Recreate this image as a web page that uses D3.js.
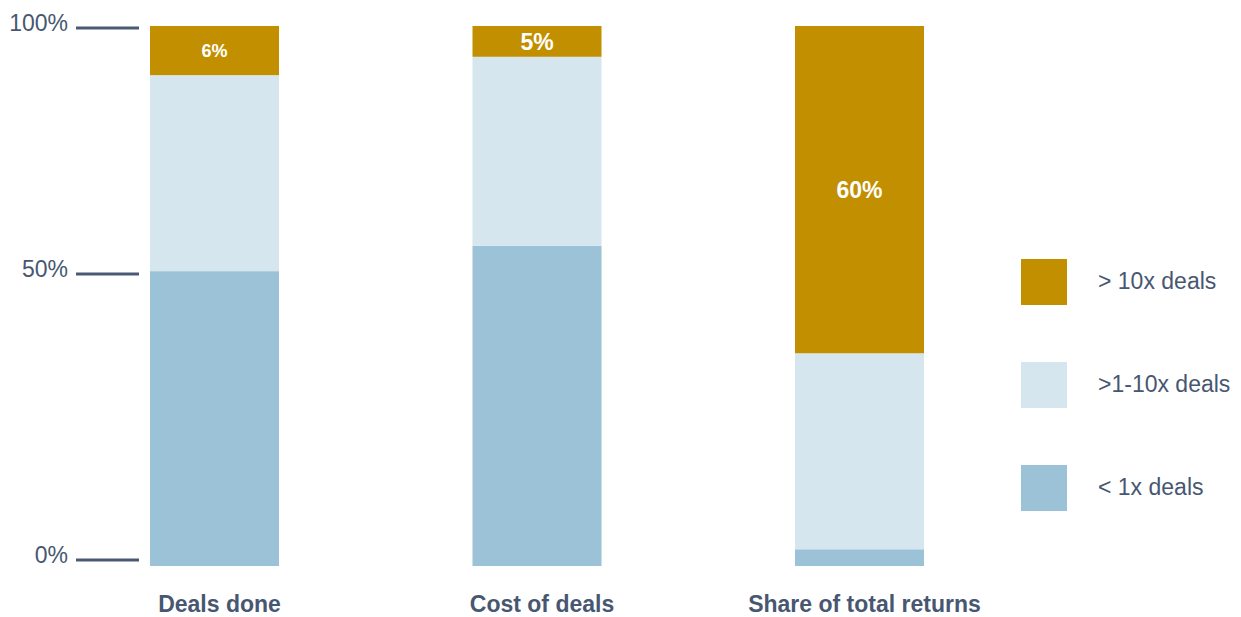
<!DOCTYPE html>
<html>
<head>
	<meta charset="utf-8">
	<script src="https://d3js.org/d3.v7.min.js"></script>
	<style>
		body { margin: 0; background: #fff; }
		text { font-family: "Liberation Sans", Arial, sans-serif; }
	</style>
</head>
<body>
	<svg width="1241" height="617"></svg>
	<script>
		// chart data
		const categories = ["Deals done", "Cost of deals", "Share of total returns"];
		const seriesNames = ["< 1x deals", ">1-10x deals", "> 10x deals"];
		const under1x = [54.6, 59.3, 3.1];
		const mid1to10x = [36.3, 35.0, 36.3];
		const over10x = [9.1, 5.7, 60.6];
		const topLabels = ["6%", "5%", "60%"];
		const tickValues = [0, 50, 100];
		const tickLabels = ["0%", "50%", "100%"];

		const colors = {"< 1x deals": "#9bc2d6", ">1-10x deals": "#d6e6ef", "> 10x deals": "#c18f00"};
		const textColor = "#475771";

		const data = categories.map((c, i) => ({
			category: c,
			"< 1x deals": under1x[i],
			">1-10x deals": mid1to10x[i],
			"> 10x deals": over10x[i],
			label: topLabels[i]
		}));

		const svg = d3.select("svg");

		const x = d3.scaleBand().domain(categories).range([150, 924]).paddingInner(0.6).paddingOuter(0);
		const y = d3.scaleLinear().domain([0, 100]).range([566, 26]);
		// the axis ticks of the original are not evenly spaced
		const yAxis = d3.scaleLinear().domain([0, 50, 100]).range([560, 274, 28]);

		const stack = d3.stack().keys(seriesNames);
		const layers = stack(data);

		svg.append("g").selectAll("g")
			.data(layers)
			.join("g")
			.attr("fill", d => colors[d.key])
			.selectAll("rect")
			.data(d => d)
			.join("rect")
			.attr("x", d => x(d.data.category))
			.attr("width", x.bandwidth())
			.attr("y", d => y(d[1]))
			.attr("height", d => y(d[0]) - y(d[1]));

		// labels on the top segment
		const topLayer = layers[2];
		svg.append("g").selectAll("text")
			.data(topLayer)
			.join("text")
			.attr("x", d => x(d.data.category) + x.bandwidth() / 2)
			.attr("y", d => (y(d[0]) + y(d[1])) / 2)
			.attr("dy", "0.38em")
			.attr("text-anchor", "middle")
			.attr("fill", "#fff")
			.attr("font-weight", "bold")
			.attr("font-size", (d, i) => i === 0 ? 18 : 23)
			.text(d => d.data.label);

		// y ticks
		const ticks = svg.append("g");
		tickValues.forEach((v, i) => {
			ticks.append("line")
				.attr("x1", 76).attr("x2", 139)
				.attr("y1", yAxis(v)).attr("y2", yAxis(v))
				.attr("stroke", "#4a5a74")
				.attr("stroke-width", 3);
			ticks.append("text")
				.attr("x", 68)
				.attr("y", yAxis(v) + 3)
				.attr("text-anchor", "end")
				.attr("font-size", 23)
				.attr("fill", textColor)
				.text(tickLabels[i]);
		});

		// category labels
		svg.append("g").selectAll("text")
			.data(categories)
			.join("text")
			.attr("x", d => x(d) + x.bandwidth() / 2 + 5)
			.attr("y", 612)
			.attr("text-anchor", "middle")
			.attr("font-size", 23)
			.attr("font-weight", "bold")
			.attr("fill", textColor)
			.text(d => d);

		// legend
		const legendOrder = seriesNames.slice().reverse();
		const legend = svg.append("g").selectAll("g")
			.data(legendOrder)
			.join("g")
			.attr("transform", (d, i) => `translate(1021,${259 + i * 103})`);
		legend.append("rect")
			.attr("width", 46).attr("height", 46)
			.attr("fill", d => colors[d]);
		legend.append("text")
			.attr("x", 77)
			.attr("y", 22)
			.attr("dy", "0.33em")
			.attr("font-size", 23)
			.attr("fill", textColor)
			.text(d => d);
	</script>
</body>
</html>
